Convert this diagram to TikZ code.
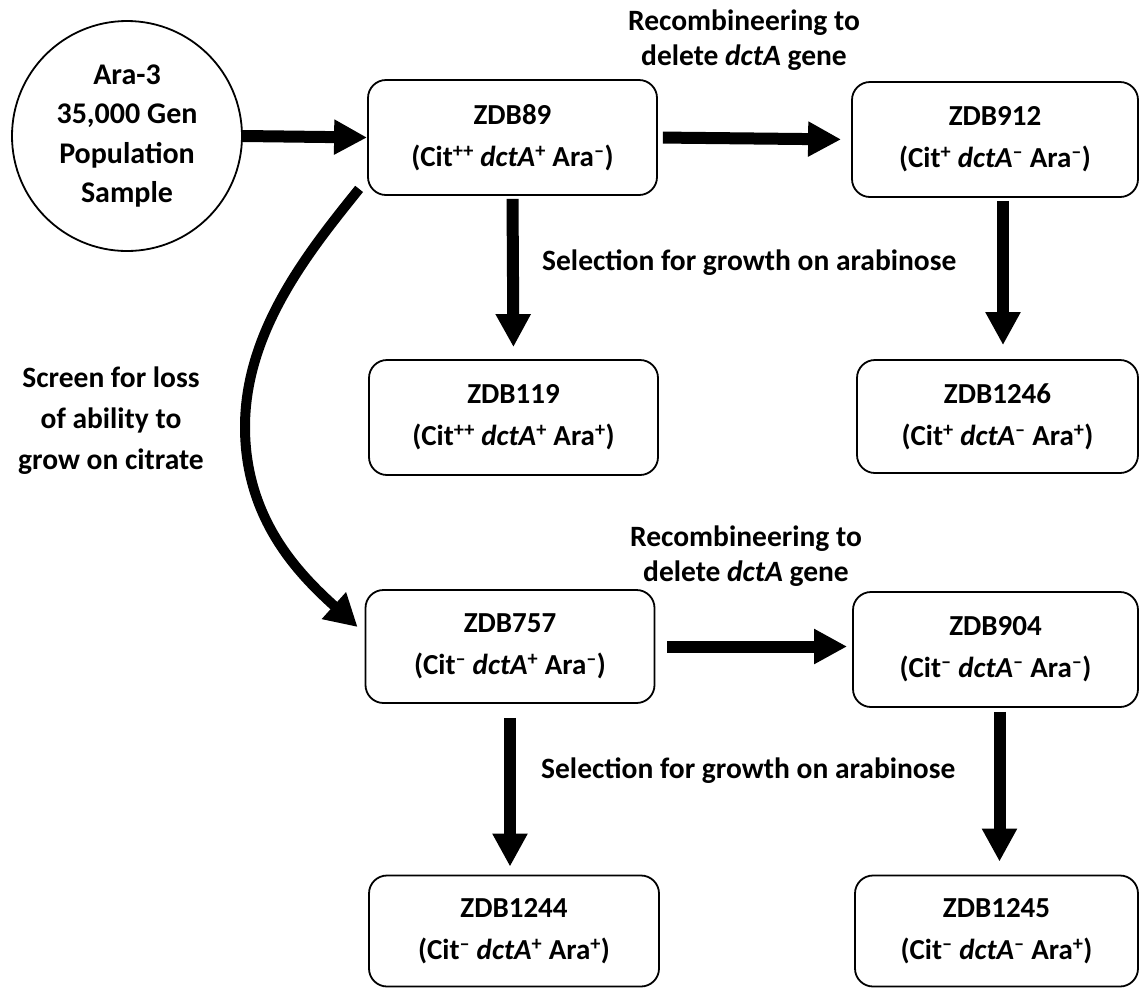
\documentclass[tikz,border=0pt]{standalone}
\usepackage{fontspec}
\setmainfont{Carlito}
\usetikzlibrary{arrows.meta}
\newcommand{\supx}[1]{\textsuperscript{#1}}
\newcommand{\mnx}{\textsuperscript{\textendash}}
\begin{document}
\begin{tikzpicture}[x=1pt,y=-1pt,
  box/.style={draw,line width=1.8pt,rounded corners=18pt,align=center,inner sep=0pt,
    font=\bfseries\fontsize{29}{42}\selectfont},
  lbl/.style={align=center,inner sep=0pt,font=\bfseries\fontsize{29.5}{35}\selectfont},
  bigarrow/.style={line width=12pt,-{Triangle[width=33pt,length=33pt]}},
  curvarrow/.style={line width=10pt,-{Triangle[width=34pt,length=32pt]}}
]
\useasboundingbox (0,0) rectangle (1141,989);

\node[draw,circle,line width=1.8pt,minimum size=230pt,inner sep=0pt,align=center,
  font=\bfseries\fontsize{30}{39.5}\selectfont] (circ) at (127,136)
  {Ara-3\\35,000 Gen\\Population\\Sample};

\node[box,minimum width=289pt,minimum height=115pt] (zdb89) at (512.5,137.5)
  {ZDB89\\(Cit\supx{++} \textit{dctA}\supx{+} Ara\mnx)};
\node[box,minimum width=286pt,minimum height=115pt] (zdb912) at (995,139.5)
  {ZDB912\\(Cit\supx{+} \textit{dctA}\mnx{} Ara\mnx)};
\node[box,minimum width=289pt,minimum height=115pt] (zdb119) at (513.5,417.5)
  {ZDB119\\(Cit\supx{++} \textit{dctA}\supx{+} Ara\supx{+})};
\node[box,minimum width=281pt,minimum height=113pt] (zdb1246) at (997.5,416.5)
  {ZDB1246\\(Cit\supx{+} \textit{dctA}\mnx{} Ara\supx{+})};
\node[box,minimum width=289pt,minimum height=113pt] (zdb757) at (510,646.5)
  {ZDB757\\(Cit\mnx{} \textit{dctA}\supx{+} Ara\mnx)};
\node[box,minimum width=285pt,minimum height=115pt] (zdb904) at (995.5,649.5)
  {ZDB904\\(Cit\mnx{} \textit{dctA}\mnx{} Ara\mnx)};
\node[box,minimum width=290pt,minimum height=111pt] (zdb1244) at (514,931)
  {ZDB1244\\(Cit\mnx{} \textit{dctA}\supx{+} Ara\supx{+})};
\node[box,minimum width=283pt,minimum height=111pt] (zdb1245) at (996.5,931)
  {ZDB1245\\(Cit\mnx{} \textit{dctA}\mnx{} Ara\supx{+})};

\node[lbl] (rec1) at (744,40) {Recombineering to\\delete \textit{dctA} gene};
\node[lbl] (rec2) at (746,556) {Recombineering to\\delete \textit{dctA} gene};
\node[lbl,anchor=west] (sel1) at (542,263) {Selection for growth on arabinose};
\node[lbl,anchor=west] (sel2) at (541,771) {Selection for growth on arabinose};
\node[lbl,font=\bfseries\fontsize{29.5}{41}\selectfont] (scr) at (111,421) {Screen for loss\\of ability to\\grow on citrate};

\draw[bigarrow] (circ.east) -- (zdb89.west);
\draw[bigarrow,shorten <=5pt,shorten >=10pt] (zdb89.east) -- (zdb912.west);
\draw[bigarrow,shorten <=3pt,shorten >=12pt] (zdb89.south) -- (zdb119.north);
\draw[bigarrow,shorten <=3pt,shorten >=14pt] ([xshift=8pt]zdb912.south) -- ([xshift=8pt]zdb912.south |- zdb1246.north);
\draw[bigarrow,shorten <=12pt,shorten >=5pt] (zdb757.east) -- (zdb757.east -| zdb904.west);
\draw[bigarrow,shorten <=14pt,shorten >=8pt] (zdb757.south) -- (zdb757.south |- zdb1244.north);
\draw[bigarrow,shorten <=4pt,shorten >=13pt] ([xshift=4pt]zdb904.south) -- ([xshift=4pt]zdb904.south |- zdb1245.north);

\coordinate (cs) at ([shift={(-8,-7)}]zdb89.south west);
\coordinate (cm) at (245,427);
\coordinate (ce) at ([shift={(-7,-19.5)}]zdb757.west);
\draw[curvarrow] (cs) .. controls (310,250) and (245,330) .. (cm)
  .. controls (245,520) and (300,575) .. (ce);
\end{tikzpicture}
\end{document}
